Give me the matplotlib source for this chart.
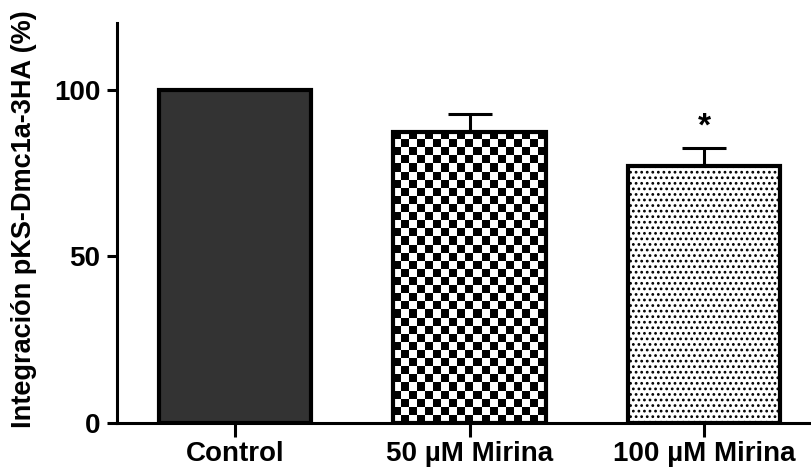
import matplotlib
matplotlib.use("Agg")
import matplotlib.pyplot as plt
import numpy as np

plt.rcParams['font.family'] = ['Liberation Sans', 'DejaVu Sans']
plt.rcParams['font.weight'] = 'bold'
plt.rcParams['hatch.linewidth'] = 1.2

# data
groups = ['Control', '50 µM Mirina', '100 µM Mirina']
means = [100, 87.4, 77.1]
errors = [0, 5.3, 5.4]
signif = ['', '', '*']
yticks = [0, 50, 100]

DPI = 100
fig = plt.figure(figsize=(8.12, 4.70), dpi=DPI)
ax = fig.add_axes([0.144, 0.1, 0.856, 0.851])

x = np.arange(len(groups))
bar_w = 0.65
lw = 2.2
bar_lw = 3.0

bars = ax.bar(x, means, width=bar_w, edgecolor='black', linewidth=bar_lw, zorder=3)
bars[0].set_facecolor('#333333')
bars[1].set_facecolor('none')
bars[2].set_facecolor('white')
bars[2].set_hatch('...')

ax.errorbar(x[1:], means[1:], yerr=[[0] * 2, errors[1:]], fmt='none',
            ecolor='black', elinewidth=lw, capsize=16, capthick=lw, zorder=2)

for xi, m, e, s in zip(x, means, errors, signif):
    if s:
        ax.text(xi, m + e + 1.5, s, ha='center', va='bottom', fontsize=24,
                fontweight='bold', zorder=5)

ax.set_xlim(-0.503, 2.46)
ax.set_ylim(0, 120)

# checkerboard fill for the 50 uM bar
fig.canvas.draw()
b = bars[1]
bb = b.get_window_extent()
ncol = max(1, int(round(bb.width / 8)))
nrow = max(1, int(round(bb.height / 8)))
checker = (np.add.outer(np.arange(nrow), np.arange(ncol)) % 2).astype(float)
im = ax.imshow(checker, cmap='gray', vmin=0, vmax=1, interpolation='nearest',
               extent=[b.get_x(), b.get_x() + b.get_width(), 0, b.get_height()],
               aspect='auto', zorder=2.5)
im.set_clip_path(b)
ax.set_aspect('auto')
ax.set_xlim(-0.503, 2.46)
ax.set_ylim(0, 120)

ax.set_xticks(x)
ax.set_xticklabels(groups, fontsize=20, fontweight='bold')
ax.set_yticks(yticks)
ax.set_yticklabels([str(t) for t in yticks], fontsize=20, fontweight='bold')
ax.tick_params(axis='y', direction='out', length=7, width=lw, pad=5)
ax.tick_params(axis='x', direction='out', length=10, width=lw, pad=3)

for side in ['top', 'right']:
    ax.spines[side].set_visible(False)
for side in ['left', 'bottom']:
    ax.spines[side].set_linewidth(lw)

ax.set_ylabel('Integración pKS-Dmc1a-3HA (%)', fontsize=19.5, fontweight='bold')
ax.yaxis.set_label_coords(-0.115, 0.51)

fig.savefig('out.png', dpi=DPI)
